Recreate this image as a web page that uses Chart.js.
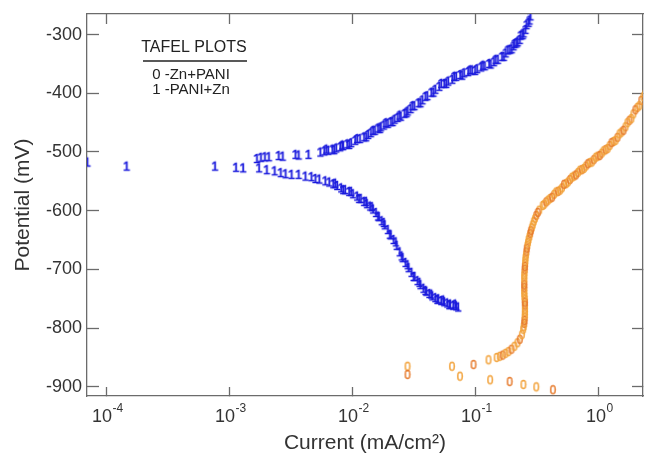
<!DOCTYPE html>
<html>
<head>
<meta charset="utf-8">
<script src="https://cdn.jsdelivr.net/npm/chart.js@4.4.0/dist/chart.umd.min.js"></script>
<style>
  body { margin: 0; background: #fff; }
</style>
</head>
<body>
<canvas id="tafel" width="648" height="460"></canvas>
<script>
// series 0 : Zn+PANI  (orange "0" markers)
const current0 = [
  0.0281, 0.0281, 0.0646, 0.0750, 0.0967, 0.128, 0.132, 0.190, 0.246, 0.313, 0.427,
  0.149, 0.158, 0.167, 0.176, 0.186, 0.197, 0.208, 0.220, 0.230, 0.239, 0.245, 0.250,
  0.252, 0.253, 0.253, 0.252, 0.250, 0.250, 0.250, 0.250, 0.252, 0.254, 0.256, 0.260,
  0.265, 0.271, 0.279, 0.288, 0.299, 0.313, 0.331, 0.353, 0.377, 0.406, 0.437, 0.471,
  0.507, 0.546, 0.588, 0.634, 0.682, 0.735, 0.791, 0.852, 0.918, 0.989, 1.065, 1.147,
  1.236, 1.331, 1.433, 1.544, 1.663, 1.791, 1.929, 2.078, 2.237, 2.410,
  0.2475, 0.251, 0.2525, 0.253, 0.2525, 0.251, 0.250, 0.250, 0.250, 0.251, 0.2525, 0.255,
  0.258, 0.262, 0.268, 0.275, 0.283, 0.293, 0.306, 0.322, 0.363, 0.391,
  0.421, 0.454, 0.489, 0.526, 0.567, 0.610, 0.657, 0.708, 0.763, 0.822, 0.885, 0.953,
  1.026, 1.105, 1.191, 1.282, 1.381, 1.487, 1.602, 1.725, 1.858, 2.002, 2.156, 2.322
];
const potential0 = [
  -866, -880, -866, -883, -863, -855, -889, -892, -897, -901, -906,
  -851, -849, -847, -844, -841, -837, -832, -826, -820, -812, -803, -793,
  -783, -773, -762, -752, -742, -732, -722, -711, -701, -691, -681, -671,
  -660, -650, -640, -630, -619, -609, -600, -592, -586, -580, -573, -568,
  -562, -555, -548, -542, -536, -531, -525, -519, -514, -508, -503, -497,
  -490, -483, -476, -467, -458, -447, -436, -425, -413, -401,
  -798, -788, -778, -768, -757, -747, -737, -727, -716, -706, -696, -686,
  -676, -665, -655, -645, -635, -625, -614, -604, -590, -583,
  -578, -569, -566, -556, -552, -544, -540, -532, -529, -521, -518, -510,
  -507, -499, -495, -485, -481, -470, -464, -451, -444, -429, -422, -407
];

// series 1 : PANI+Zn  (blue "1" markers)
const current1 = [
  7.0e-5, 1.46e-4, 7.62e-4, 1.13e-3, 1.29e-3,
  // anodic branch
  1.67e-3, 1.80e-3, 1.94e-3, 2.09e-3, 2.51e-3, 2.71e-3, 3.44e-3, 3.65e-3, 4.39e-3, 5.48e-3,
  5.90e-3, 6.35e-3, 6.86e-3, 7.38e-3, 7.94e-3, 8.40e-3, 9.04e-3, 9.75e-3, 1.05e-2, 1.15e-2,
  1.24e-2, 1.34e-2, 1.41e-2, 1.52e-2, 1.61e-2, 1.70e-2, 1.80e-2, 1.94e-2, 2.05e-2, 2.20e-2,
  2.33e-2, 2.47e-2, 2.65e-2, 2.81e-2, 2.97e-2, 3.19e-2, 3.44e-2, 3.71e-2, 4.06e-2, 4.38e-2,
  4.72e-2, 5.08e-2, 5.57e-2, 6.00e-2, 6.47e-2, 6.97e-2, 7.50e-2, 8.07e-2, 8.71e-2, 9.38e-2,
  0.103, 0.111, 0.119, 0.129, 0.141, 0.152, 0.164, 0.176, 0.190, 0.204, 0.216, 0.229,
  0.242, 0.255, 0.270, 0.280,
  6.13e-3, 7.11e-3, 8.25e-3, 9.39e-3, 1.09e-2, 1.29e-2, 1.47e-2, 1.67e-2, 1.87e-2, 2.12e-2,
  2.42e-2, 2.75e-2, 3.08e-2, 3.57e-2, 3.92e-2, 4.55e-2, 5.27e-2, 5.78e-2, 6.71e-2, 7.78e-2,
  9.03e-2, 9.91e-2, 0.115, 0.133, 0.146, 0.170, 0.183, 0.197, 0.208, 0.220, 0.233, 0.246,
  0.260, 0.275,
  // cathodic branch
  1.74e-3, 2.01e-3, 2.33e-3, 2.61e-3, 2.86e-3, 3.20e-3, 3.65e-3, 4.15e-3, 4.64e-3, 5.00e-3,
  5.38e-3, 6.02e-3, 6.48e-3, 6.98e-3, 7.51e-3, 8.09e-3, 8.72e-3, 9.39e-3, 1.01e-2, 1.09e-2,
  1.17e-2, 1.24e-2, 1.31e-2, 1.39e-2, 1.47e-2, 1.55e-2, 1.64e-2, 1.73e-2, 1.83e-2, 1.94e-2,
  2.05e-2, 2.16e-2, 2.29e-2, 2.42e-2, 2.56e-2, 2.70e-2, 2.86e-2, 3.02e-2, 3.20e-2, 3.38e-2,
  3.57e-2, 3.78e-2, 3.99e-2, 4.22e-2, 4.46e-2, 4.72e-2, 4.99e-2, 5.27e-2, 5.57e-2, 5.89e-2,
  6.23e-2, 6.59e-2, 6.97e-2, 7.23e-2,
  7.24e-3, 8.40e-3, 9.75e-3, 1.13e-2, 1.29e-2, 1.44e-2, 1.61e-2, 1.80e-2, 2.01e-2, 2.25e-2,
  2.51e-2, 2.81e-2, 3.14e-2, 3.51e-2, 3.92e-2, 4.38e-2, 4.90e-2, 5.47e-2, 6.12e-2, 6.84e-2
];
const potential1 = [
  -518, -525, -525, -527, -528,
  -512, -510, -509, -509, -507, -508, -505, -506, -505, -501,
  -499, -498, -496, -494, -492, -490, -487, -485, -481, -478,
  -475, -471, -468, -464, -460, -458, -455, -452, -449, -445,
  -442, -440, -435, -431, -427, -422, -417, -412, -405, -399,
  -394, -389, -384, -380, -377, -372, -369, -366, -364, -361,
  -359, -356, -354, -350, -347, -343, -338, -332, -326, -320, -315, -309,
  -301, -292, -280, -269,
  -496, -497, -489, -488, -478, -475, -464, -461, -451, -449,
  -438, -434, -422, -417, -406, -399, -384, -384, -372, -370,
  -361, -362, -353, -351, -343, -338, -327, -325, -316, -313, -302, -298,
  -284, -276,
  -528, -531, -533, -536, -538, -539, -539, -542, -543, -546,
  -547, -550, -552, -555, -558, -562, -565, -568, -572, -576,
  -580, -585, -589, -593, -598, -604, -611, -618, -625, -633,
  -642, -650, -660, -671, -681, -689, -698, -706, -713, -720,
  -727, -733, -738, -742, -746, -749, -751, -754, -756, -758,
  -760, -762, -763, -765,
  -554, -565, -568, -580, -585, -594, -610, -621, -641, -654,
  -678, -693, -713, -723, -737, -743, -752, -753, -761, -760
];

const seriesNames = ['Zn+PANI', 'PANI+Zn'];
const legendTitle = 'TAFEL PLOTS';

const xTickValues = [1e-4, 1e-3, 1e-2, 1e-1, 1];
const xTickBase = '10';
const xTickExponents = ['-4', '-3', '-2', '-1', '0'];
const yTickValues = [-900, -800, -700, -600, -500, -400, -300];

const xMin = 6.97e-5, xMax = 2.31;
const yMin = -915.8, yMax = -265;

const FONT = '"Liberation Sans", Arial, Helvetica, sans-serif';

// text markers like the original plot ("0" and "1")
function glyph(ch, color, size, weight) {
  const c = document.createElement('canvas');
  c.width = 10; c.height = 14;
  const g = c.getContext('2d');
  g.font = size + 'px ' + FONT;
  g.fillStyle = color;
  g.strokeStyle = color;
  g.lineWidth = weight;
  g.textAlign = 'center';
  g.textBaseline = 'middle';
  g.fillText(ch, 5, 7.5);
  g.strokeText(ch, 5, 7.5);
  return c;
}
const blueOne = glyph('1', '#1a1adc', 13, 0.6);
const orangeZeroA = glyph('0', '#f2a23a', 12, 0.4);
const orangeZeroB = glyph('0', '#e67a2c', 12, 0.4);

const fixSize = (w, h) => s => {
  if (w !== null) s.width = w;
  if (h !== null) s.height = h;
  s.paddingTop = s.paddingBottom = s.paddingLeft = s.paddingRight = 0;
};

const frame = { color: '#6b6b6b', width: 1.3 };

// decade labels with a raised exponent, placed through the x scale
const decadeLabels = {
  id: 'decadeLabels',
  afterDraw(chart) {
    const ctx = chart.ctx;
    const sx = chart.scales.x;
    ctx.save();
    ctx.fillStyle = '#333';
    ctx.textAlign = 'left';
    ctx.textBaseline = 'middle';
    xTickValues.forEach((v, i) => {
      const px = sx.getPixelForValue(v);
      ctx.font = '18px ' + FONT;
      const w1 = ctx.measureText(xTickBase).width;
      ctx.font = '12px ' + FONT;
      const w2 = ctx.measureText(xTickExponents[i]).width;
      const left = px - (w1 + w2) / 2 + 1;
      ctx.font = '18px ' + FONT;
      ctx.fillText(xTickBase, left, sx.top + 21);
      ctx.font = '12px ' + FONT;
      ctx.fillText(xTickExponents[i], left + w1 + 0.5, sx.top + 13);
    });
    ctx.restore();
  }
};

const legendBox = {
  id: 'legendBox',
  afterDraw(chart) {
    const ctx = chart.ctx;
    ctx.save();
    ctx.fillStyle = '#222';
    ctx.textAlign = 'center';
    ctx.textBaseline = 'middle';
    ctx.font = '16px ' + FONT;
    ctx.fillText(legendTitle, 194, 48);
    ctx.strokeStyle = '#222';
    ctx.lineWidth = 1.4;
    ctx.beginPath();
    ctx.moveTo(143, 61);
    ctx.lineTo(247, 61);
    ctx.stroke();
    ctx.font = '15px ' + FONT;
    seriesNames.forEach((n, i) => ctx.fillText(i + ' -' + n, 191, 75 + i * 14.5));
    ctx.restore();
  }
};

new Chart(document.getElementById('tafel'), {
  type: 'scatter',
  data: {
    datasets: [
      {
        label: seriesNames[0],
        data: current0.map((c, i) => ({ x: c, y: potential0[i] })),
        pointStyle: ctx => (ctx.dataIndex % 3 === 1 ? orangeZeroB : orangeZeroA),
        pointRadius: 5,
        borderWidth: 0,
        clip: 0
      },
      {
        label: seriesNames[1],
        data: current1.map((c, i) => ({ x: c, y: potential1[i] })),
        pointStyle: blueOne,
        pointRadius: 5,
        borderWidth: 0,
        clip: 0
      }
    ]
  },
  options: {
    responsive: false,
    animation: false,
    events: [],
    layout: { padding: 0 },
    plugins: { legend: { display: false }, tooltip: { enabled: false } },
    scales: {
      x: {
        type: 'logarithmic',
        position: 'bottom',
        min: xMin, max: xMax,
        afterBuildTicks: s => { s.ticks = xTickValues.map(v => ({ value: v })); },
        afterFit: fixSize(null, 64),
        ticks: { display: false },
        grid: { drawOnChartArea: false, tickLength: -9, color: frame.color, tickWidth: frame.width },
        border: frame,
        title: {
          display: true,
          text: 'Current (mA/cm\u00B2)',
          font: { family: FONT, size: 21 },
          color: '#333',
          padding: { top: 0, bottom: 4 }
        }
      },
      xTop: {
        type: 'logarithmic',
        position: 'top',
        min: xMin, max: xMax,
        afterBuildTicks: s => { s.ticks = xTickValues.map(v => ({ value: v })); },
        afterFit: fixSize(null, 14),
        ticks: { display: false },
        grid: { drawOnChartArea: false, tickLength: -10, color: frame.color, tickWidth: frame.width },
        border: frame
      },
      y: {
        type: 'linear',
        position: 'left',
        min: yMin, max: yMax,
        afterBuildTicks: s => { s.ticks = yTickValues.map(v => ({ value: v })); },
        afterFit: fixSize(87, null),
        ticks: {
          callback: v => String(v),
          font: { family: FONT, size: 18 },
          color: '#333',
          padding: 17
        },
        grid: { drawOnChartArea: false, tickLength: -12, color: frame.color, tickWidth: frame.width },
        border: frame,
        title: {
          display: true,
          text: 'Potential (mV)',
          font: { family: FONT, size: 21 },
          color: '#333',
          padding: { top: 11, bottom: 0 }
        }
      },
      yRight: {
        type: 'linear',
        position: 'right',
        min: yMin, max: yMax,
        afterBuildTicks: s => { s.ticks = yTickValues.map(v => ({ value: v })); },
        afterFit: fixSize(0, null),
        ticks: { display: false },
        grid: { drawOnChartArea: false, tickLength: -11, color: frame.color, tickWidth: frame.width },
        border: frame
      }
    }
  },
  plugins: [decadeLabels, legendBox]
});
</script>
</body>
</html>
